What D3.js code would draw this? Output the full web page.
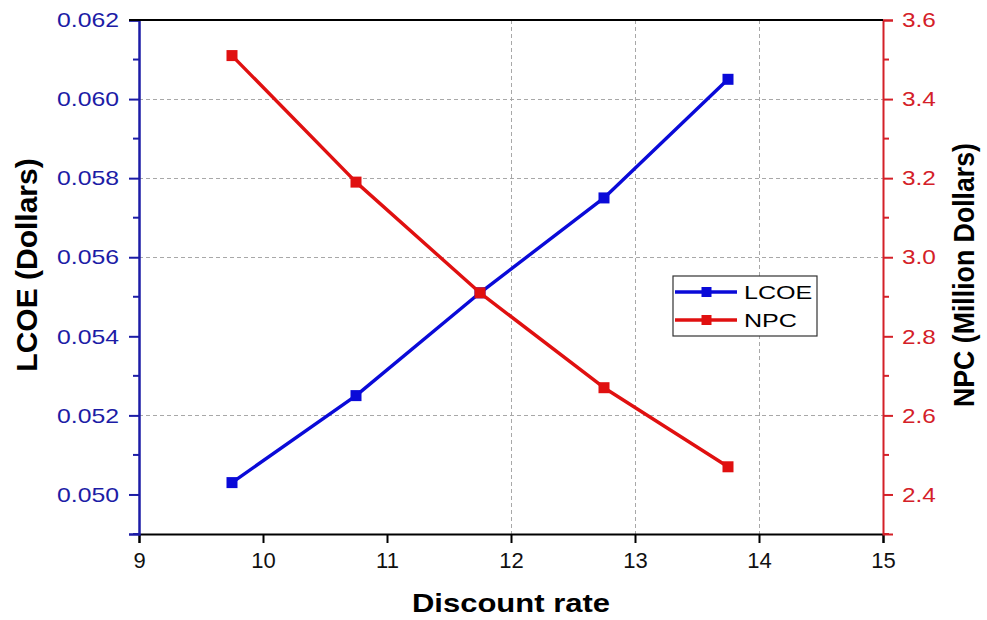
<!DOCTYPE html>
<html>
<head>
<meta charset="utf-8">
<script src="https://cdn.jsdelivr.net/npm/d3@7"></script>
<style>
  html, body { margin: 0; padding: 0; background: #fff; }
  svg { display: block; font-family: "Liberation Sans", Arial, sans-serif; }
</style>
</head>
<body>
<svg id="chart" width="987" height="620"></svg>
<script>
// Discount rate sweep
const discountRates = [9.75, 10.75, 11.75, 12.75, 13.75];
const lcoeValues = [0.0503, 0.0525, 0.0551, 0.0575, 0.0605];
const npcValues = [3.51, 3.19, 2.91, 2.67, 2.47];

const xTicks = [9, 10, 11, 12, 13, 14, 15];
const lcoeTicks = [0.050, 0.052, 0.054, 0.056, 0.058, 0.060, 0.062];
const npcTicks = [2.4, 2.6, 2.8, 3.0, 3.2, 3.4, 3.6];
const xGridTicks = [12, 13, 14];
const yGridTicks = [0.052, 0.056, 0.058, 0.060];

const seriesNames = ["LCOE", "NPC"];

const plot = { left: 139, right: 883, top: 20, bottom: 534 };

const blue = "#0a0ad8", red = "#e01010";
const leftAxisColor = "#1c1ca6", rightAxisColor = "#d42028";

const svg = d3.select("#chart");

const x = d3.scaleLinear().domain([9, 15]).range([plot.left, plot.right]);
const yL = d3.scaleLinear().domain([0.049, 0.062]).range([plot.bottom, plot.top]);
const yR = d3.scaleLinear().domain([2.3, 3.6]).range([plot.bottom, plot.top]);

// widen text horizontally by a factor, keeping its anchor
function stretch(sel, k) {
  sel.each(function () {
    const len = this.getComputedTextLength();
    d3.select(this).attr("textLength", len * k).attr("lengthAdjust", "spacingAndGlyphs");
  });
}

// dashed grid
const grid = svg.append("g").attr("stroke", "#a8a8a8").attr("stroke-width", 1).attr("stroke-dasharray", "4,3");
grid.selectAll("line.h").data(yGridTicks).join("line")
  .attr("class", "h")
  .attr("x1", plot.left).attr("x2", plot.right)
  .attr("y1", d => Math.round(yL(d)) + 0.5).attr("y2", d => Math.round(yL(d)) + 0.5);
grid.selectAll("line.v").data(xGridTicks).join("line")
  .attr("class", "v")
  .attr("y1", plot.top).attr("y2", plot.bottom)
  .attr("x1", d => Math.round(x(d)) + 0.5).attr("x2", d => Math.round(x(d)) + 0.5);

// bottom axis
const xAxis = svg.append("g")
  .attr("transform", `translate(0,${plot.bottom})`)
  .call(d3.axisBottom(x).tickValues(xTicks).tickFormat(d3.format("d")).tickSizeOuter(0).tickSize(9).tickPadding(9));
xAxis.select(".domain").attr("stroke", "#000").attr("stroke-width", 2);
xAxis.selectAll(".tick line").attr("stroke", "#000").attr("stroke-width", 2);
xAxis.selectAll(".tick text").attr("font-size", 22).attr("fill", "#111");

// minor ticks halfway between major ticks, plus one below the first
function minorTicks(scale, values) {
  const out = [];
  for (let i = 0; i < values.length - 1; i++) out.push((values[i] + values[i + 1]) / 2);
  out.push(values[0] - (values[1] - values[0]) / 2);
  return out.filter(v => v >= scale.domain()[0] - 1e-9);
}

// left axis (LCOE)
const leftAxis = svg.append("g")
  .attr("transform", `translate(${plot.left},0)`)
  .call(d3.axisLeft(yL).tickValues(lcoeTicks).tickFormat(d3.format(".3f")).tickSizeOuter(0).tickSize(10).tickPadding(10));
leftAxis.select(".domain").attr("stroke", leftAxisColor).attr("stroke-width", 2.5);
leftAxis.selectAll(".tick line").attr("stroke", leftAxisColor).attr("stroke-width", 2);
leftAxis.selectAll(".tick text").attr("font-size", 21).attr("fill", leftAxisColor).call(stretch, 1.18);
leftAxis.selectAll("line.minor").data(minorTicks(yL, lcoeTicks)).join("line")
  .attr("class", "minor")
  .attr("x1", -6).attr("x2", 0)
  .attr("y1", d => yL(d)).attr("y2", d => yL(d))
  .attr("stroke", leftAxisColor).attr("stroke-width", 2);

// right axis (NPC)
const rightAxis = svg.append("g")
  .attr("transform", `translate(${plot.right},0)`)
  .call(d3.axisRight(yR).tickValues(npcTicks).tickFormat(d3.format(".1f")).tickSizeOuter(0).tickSize(10).tickPadding(9));
rightAxis.select(".domain").attr("stroke", rightAxisColor).attr("stroke-width", 2);
rightAxis.selectAll(".tick line").attr("stroke", rightAxisColor).attr("stroke-width", 2);
rightAxis.selectAll(".tick text").attr("font-size", 21).attr("fill", rightAxisColor).call(stretch, 1.16);
rightAxis.selectAll("line.minor").data(minorTicks(yR, npcTicks)).join("line")
  .attr("class", "minor")
  .attr("x1", 0).attr("x2", 6)
  .attr("y1", d => yR(d)).attr("y2", d => yR(d))
  .attr("stroke", rightAxisColor).attr("stroke-width", 2);

// top frame line, with the top-left tick in black
svg.append("line")
  .attr("x1", plot.left - 10).attr("x2", plot.right)
  .attr("y1", plot.top).attr("y2", plot.top)
  .attr("stroke", "#000").attr("stroke-width", 2);

// series
const lcoeData = discountRates.map((r, i) => ({ r, v: lcoeValues[i] }));
const npcData = discountRates.map((r, i) => ({ r, v: npcValues[i] }));

function drawSeries(data, yScale, color) {
  const line = d3.line().x(d => x(d.r)).y(d => yScale(d.v));
  svg.append("path").datum(data)
    .attr("d", line).attr("fill", "none")
    .attr("stroke", color).attr("stroke-width", 3.4).attr("stroke-linejoin", "round");
  svg.append("g").selectAll("rect").data(data).join("rect")
    .attr("x", d => x(d.r) - 5.5).attr("y", d => yScale(d.v) - 5.5)
    .attr("width", 11).attr("height", 11).attr("fill", color);
}
drawSeries(lcoeData, yL, blue);
drawSeries(npcData, yR, red);

// axis titles
svg.append("text")
  .attr("transform", "translate(37,265) rotate(-90)")
  .attr("text-anchor", "middle").attr("font-size", 30).attr("font-weight", "bold").attr("fill", "#000")
  .text("LCOE (Dollars)");
svg.append("text")
  .attr("transform", "translate(974,275) rotate(-90)")
  .attr("text-anchor", "middle").attr("font-size", 29).attr("font-weight", "bold").attr("fill", "#000")
  .attr("textLength", 264).attr("lengthAdjust", "spacingAndGlyphs")
  .text("NPC (Million Dollars)");
svg.append("text")
  .attr("x", 511).attr("y", 612)
  .attr("text-anchor", "middle").attr("font-size", 25).attr("font-weight", "bold").attr("fill", "#000")
  .attr("textLength", 198).attr("lengthAdjust", "spacingAndGlyphs")
  .text("Discount rate");

// legend
const legend = svg.append("g").attr("transform", "translate(673,276)");
legend.append("rect").attr("x", 0).attr("y", 0).attr("width", 144).attr("height", 60)
  .attr("fill", "#fff").attr("stroke", "#333").attr("stroke-width", 1.2);
const colors = [blue, red];
seriesNames.forEach((name, i) => {
  const cy = 16 + i * 28;
  legend.append("line").attr("x1", 2).attr("x2", 64).attr("y1", cy).attr("y2", cy)
    .attr("stroke", colors[i]).attr("stroke-width", 3.4);
  legend.append("rect").attr("x", 28.5).attr("y", cy - 5).attr("width", 10).attr("height", 10).attr("fill", colors[i]);
  legend.append("text").attr("x", 71).attr("y", cy + 6.5)
    .attr("font-size", 19).attr("fill", "#000").text(name).call(stretch, 1.32);
});
</script>
</body>
</html>
